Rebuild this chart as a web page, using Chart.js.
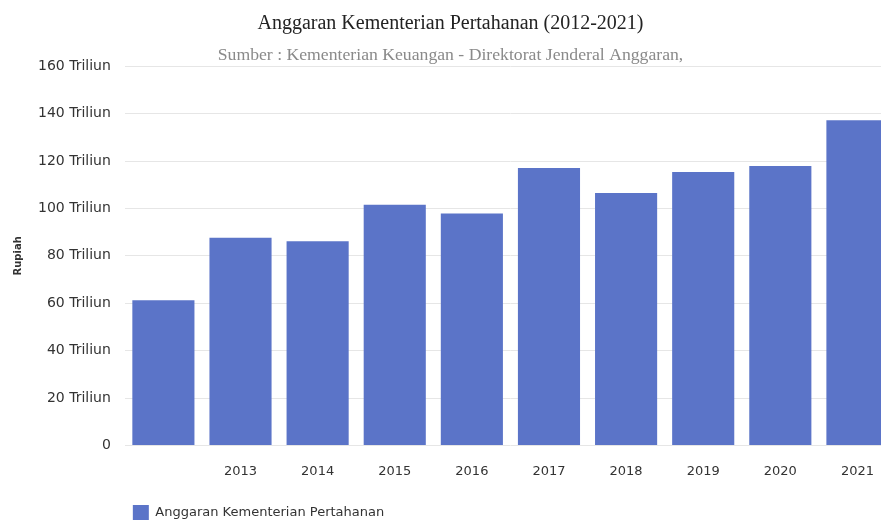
<!DOCTYPE html>
<html>
<head>
<meta charset="utf-8">
<script src="https://cdn.jsdelivr.net/npm/chart.js@4"></script>
<style>
html, body { margin: 0; padding: 0; background: #fff; overflow: hidden; }
#wrap { width: 900px; height: 521px; }
</style>
</head>
<body>
<div id="wrap"><canvas id="grafik" width="900" height="521"></canvas></div>
<script>
'use strict';

// data anggaran (triliun rupiah)
const TAHUN = ['2012', '2013', '2014', '2015', '2016', '2017', '2018', '2019', '2020', '2021'];
const LABEL_X = ['', '2013', '2014', '2015', '2016', '2017', '2018', '2019', '2020', '2021'];
const ANGGARAN = [61.2, 87.6, 86.1, 101.6, 97.9, 117.1, 106.5, 115.4, 117.9, 137.2];
const Y_MAX = 160;
const Y_STEP = 20;

const SANS = "'DejaVu Sans', Verdana, sans-serif";
const SERIF = "'Liberation Serif', 'Times New Roman', serif";
const WARNA_BAR = '#5b74c8';

new Chart(document.getElementById('grafik'), {
    type: 'bar',
    data: {
        labels: TAHUN,
        datasets: [{
            label: 'Anggaran Kementerian Pertahanan',
            data: ANGGARAN,
            backgroundColor: WARNA_BAR,
            borderWidth: 0,
            barPercentage: 0.9,
            categoryPercentage: 0.895,
        }],
    },
    options: {
        responsive: false,
        animation: false,
        // bawah negatif supaya legend turun ke tepi gambar
        layout: { padding: { left: 5, right: 4, top: 0, bottom: -9 } },
        plugins: {
            title: {
                display: true,
                text: 'Anggaran Kementerian Pertahanan (2012-2021)',
                color: '#222',
                font: { family: SERIF, size: 20, weight: 'normal' },
                padding: { top: 12, bottom: 0 },
            },
            subtitle: {
                display: true,
                text: 'Sumber : Kementerian Keuangan - Direktorat Jenderal Anggaran,',
                color: '#8a8a8a',
                font: { family: SERIF, size: 17.7 },
                padding: { top: 9, bottom: 0 },
            },
            legend: {
                position: 'bottom',
                align: 'start',
                fullSize: false,
                labels: {
                    boxWidth: 16,
                    boxHeight: 15,
                    color: '#333',
                    font: { family: SANS, size: 13 },
                    padding: 8,
                },
            },
            tooltip: { enabled: false },
        },
        scales: {
            x: {
                grid: { display: false, drawTicks: false },
                border: { display: false },
                ticks: {
                    color: '#333',
                    font: { family: SANS, size: 13 },
                    padding: 18,
                    autoSkip: false,
                    maxRotation: 0,
                    callback: (v, i) => LABEL_X[i],
                },
            },
            y: {
                min: 0,
                max: Y_MAX,
                grid: { color: '#e6e6e6', drawTicks: false },
                border: { display: false },
                title: {
                    display: true,
                    text: 'Rupiah',
                    color: '#333',
                    font: { family: SANS, size: 10, weight: 'bold' },
                    padding: { top: 7, bottom: 0 },
                },
                ticks: {
                    stepSize: Y_STEP,
                    color: '#333',
                    font: { family: SANS, size: 14 },
                    padding: 14,
                    callback: (v) => (v === 0 ? '0' : `${v} Triliun`),
                },
            },
        },
    },
});
</script>
</body>
</html>
